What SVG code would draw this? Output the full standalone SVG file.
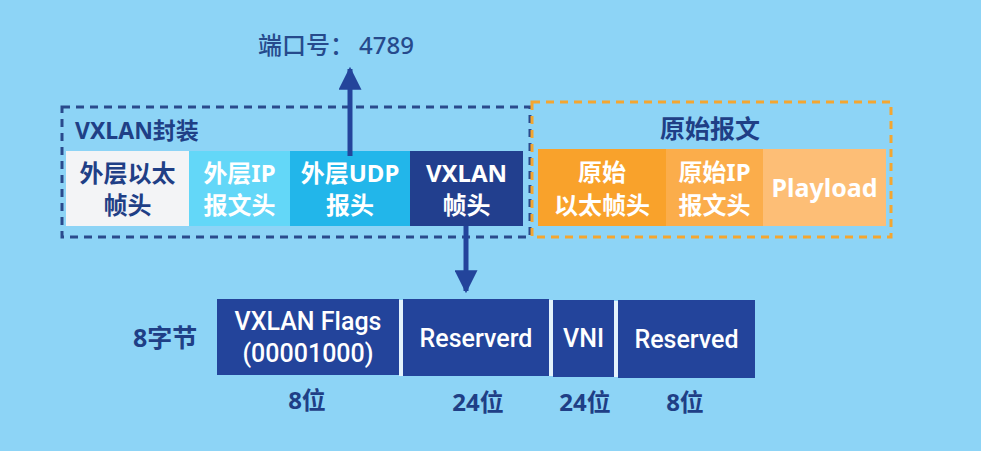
<svg xmlns="http://www.w3.org/2000/svg" width="981" height="451" viewBox="0 0 981 451">
<style>
.t{font-family:"Noto Sans","Noto Sans CJK SC",sans-serif;font-weight:700;text-anchor:middle}
.w{fill:#ffffff}
.d{fill:#1f3f86}
.f24{font-size:24px}
.m{font-family:Roboto,"Noto Sans CJK SC",sans-serif;font-weight:500;font-size:25px;fill:#ffffff;text-anchor:middle}
.lbl{font-family:"Noto Sans","Noto Sans CJK SC",sans-serif;font-weight:700;fill:#1f3f86}
.bb{fill:#23449b}
.gap{fill:#e4f3fc}
</style>
<defs>
<marker id="ah" viewBox="0 0 10 10" refX="9" refY="5" markerWidth="4.6" markerHeight="4.6" orient="auto" markerUnits="strokeWidth">
<path d="M0,0 L10,5 L0,10 z" fill="#23449b"/>
</marker>
</defs>
<rect x="0" y="0" width="981" height="451" fill="#8dd4f6"/>

<g id="vxlan-encap">
<rect x="62" y="107" width="468" height="130" fill="none" stroke="#2a4a8c" stroke-width="3" stroke-dasharray="8 6"/>
<text x="75" y="139" class="lbl" font-size="23">VXLAN封装</text>
</g>
<g id="orig-frame">
<rect x="532" y="102" width="359" height="135" fill="none" stroke="#f4a630" stroke-width="3" stroke-dasharray="8 6"/>
<text x="710" y="138" class="t d" font-size="25">原始报文</text>
</g>

<g id="outer-eth">
<rect x="66" y="151" width="123" height="75" fill="#f3f4f6"/>
<text x="127.5" y="182" class="t d f24">外层以太</text>
<text x="127.5" y="214" class="t d f24">帧头</text>
</g>
<g id="outer-ip">
<rect x="189" y="151" width="101" height="75" fill="#63d7f8"/>
<text x="239.5" y="182" class="t w f24">外层IP</text>
<text x="239.5" y="214" class="t w f24">报文头</text>
</g>
<g id="outer-udp">
<rect x="290" y="151" width="120" height="75" fill="#22b6ea"/>
<text x="350" y="182" class="t w f24">外层UDP</text>
<text x="350" y="214" class="t w f24">报头</text>
</g>
<g id="vxlan-header">
<rect x="410" y="151" width="113" height="75" fill="#223f8e"/>
<text x="466.5" y="182" class="t w f24">VXLAN</text>
<text x="466.5" y="214" class="t w f24">帧头</text>
</g>

<g id="orig-eth">
<rect x="538" y="149" width="128" height="77" fill="#f9a22b"/>
<text x="602" y="181" class="t w f24">原始</text>
<text x="602" y="214" class="t w f24">以太帧头</text>
</g>
<g id="orig-ip">
<rect x="666" y="149" width="97" height="77" fill="#fbad4b"/>
<text x="714.5" y="181" class="t w f24">原始IP</text>
<text x="714.5" y="214" class="t w f24">报文头</text>
</g>
<g id="payload">
<rect x="763" y="149" width="123" height="77" fill="#fdbe76"/>
<text x="824.5" y="197" class="t w" font-size="25">Playload</text>
</g>

<g id="port-label">
<text x="258" y="54" font-family="Noto Sans, Noto Sans CJK SC, sans-serif" font-weight="500" font-size="24" fill="#264a8c">端口号：<tspan x="359">4789</tspan></text>
</g>

<g id="bytes-label">
<text x="133" y="347" class="lbl" font-size="25">8字节</text>
</g>

<rect x="399" y="300" width="4" height="76" class="gap"/>
<rect x="549" y="300" width="4" height="76" class="gap"/>
<rect x="614" y="301" width="4" height="76" class="gap"/>

<g id="flags">
<rect x="217" y="299" width="182" height="76" class="bb"/>
<text x="308" y="330" class="m">VXLAN Flags</text>
<text x="308" y="362" class="m">(00001000)</text>
<text x="307" y="409" class="t d" font-size="24">8位</text>
</g>
<g id="reserved1">
<rect x="403" y="299" width="146" height="77" class="bb"/>
<text x="476" y="347" class="m">Reserverd</text>
<text x="478" y="411" class="t d" font-size="24">24位</text>
</g>
<g id="vni">
<rect x="553" y="300" width="61" height="77" class="bb"/>
<text x="583.5" y="347" class="m">VNI</text>
<text x="585" y="411" class="t d" font-size="24">24位</text>
</g>
<g id="reserved2">
<rect x="618" y="300" width="137" height="78" class="bb"/>
<text x="686.5" y="348" class="m">Reserved</text>
<text x="685" y="411" class="t d" font-size="24">8位</text>
</g>

<g id="connectors" stroke="#23449b" stroke-width="5" fill="none">
<line x1="350" y1="156" x2="350" y2="69" marker-end="url(#ah)"/>
<line x1="466" y1="226" x2="466" y2="291" marker-end="url(#ah)"/>
</g>
</svg>
